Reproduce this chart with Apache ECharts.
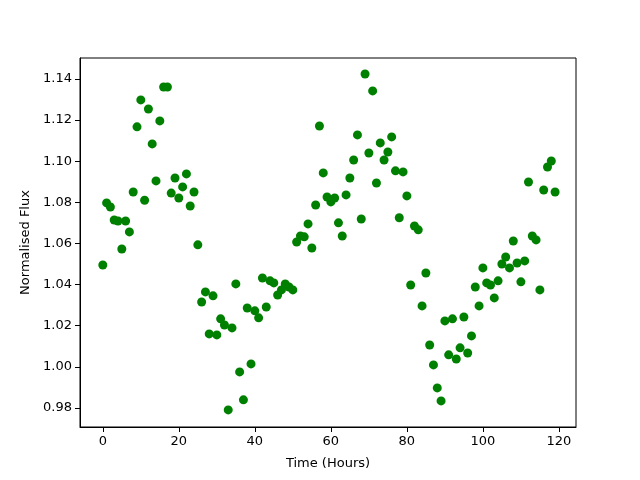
<!DOCTYPE html>
<html>
<head>
<meta charset="utf-8">
<script src="https://cdn.jsdelivr.net/npm/echarts@6/dist/echarts.min.js"></script>
<style>
  html, body { margin: 0; padding: 0; background: #fff; }
  #main { width: 640px; height: 480px; }
</style>
</head>
<body>
<div id="main"></div>
<script>
// 光变曲线：归一化通量 vs 时间
var hours = [];
for (var h = 0; h < 120; h++) hours.push(h);

var flux = [
  1.0495, 1.0797, 1.0777, 1.0714, 1.0709, 1.0573, 1.0709, 1.0656, 1.0850, 1.1167,
  1.1298, 1.0810, 1.1254, 1.1084, 1.0904, 1.1196, 1.1361, 1.1361, 1.0845, 1.0918,
  1.0821, 1.0875, 1.0938, 1.0782, 1.0850, 1.0593, 1.0315, 1.0364, 1.0160, 1.0345,
  1.0155, 1.0233, 1.0203, 0.9790, 1.0189, 1.0403, 0.9975, 0.9839, 1.0286, 1.0014,
  1.0272, 1.0238, 1.0432, 1.0291, 1.0418, 1.0408, 1.0349, 1.0374, 1.0403, 1.0388,
  1.0374, 1.0607, 1.0636, 1.0632, 1.0695, 1.0578, 1.0787, 1.1171, 1.0943, 1.0826,
  1.0802, 1.0821, 1.0700, 1.0636, 1.0836, 1.0918, 1.1006, 1.1128, 1.0719, 1.1424,
  1.1040, 1.1342, 1.0894, 1.1089, 1.1006, 1.1045, 1.1118, 1.0953, 1.0725, 1.0948,
  1.0831, 1.0398, 1.0685, 1.0666, 1.0296, 1.0456, 1.0106, 1.0009, 0.9897, 0.9834,
  1.0223, 1.0058, 1.0233, 1.0038, 1.0092, 1.0242, 1.0067, 1.0150, 1.0388, 1.0296,
  1.0481, 1.0408, 1.0398, 1.0335, 1.0418, 1.0500, 1.0534, 1.0481, 1.0612, 1.0505,
  1.0413, 1.0515, 1.0899, 1.0636, 1.0617, 1.0374, 1.0860, 1.0972, 1.1001, 1.0850
];

var xTicks = [0, 20, 40, 60, 80, 100, 120];
var yTicks = [0.98, 1.00, 1.02, 1.04, 1.06, 1.08, 1.10, 1.12, 1.14];

(function() {
  var chartDom = document.getElementById('main');
  var myChart = echarts.init(chartDom);
  var option;

  var points = hours.map(function(t, i) { return [t, flux[i]]; });
  var font = 'DejaVu Sans';

  option = {
    animation: false,
    grid: {
      left: 80,
      right: 64,
      top: 58,
      bottom: 53,
      show: true,
      borderColor: '#000',
      borderWidth: 1,
      backgroundColor: 'transparent'
    },
    xAxis: {
      type: 'value',
      min: -6,
      max: 124.5,
      name: 'Time (Hours)',
      nameLocation: 'middle',
      nameGap: 30,
      nameTextStyle: { color: '#000', fontSize: 13, fontFamily: font },
      splitLine: { show: false },
      axisLine: { show: true, onZero: false, lineStyle: { color: '#000' } },
      axisTick: { show: true, length: 5, customValues: xTicks, lineStyle: { color: '#000' } },
      axisLabel: {
        color: '#000', fontSize: 13, fontFamily: font, margin: 8,
        customValues: xTicks
      }
    },
    yAxis: {
      type: 'value',
      min: 0.9707,
      max: 1.1502,
      name: 'Normalised Flux',
      nameLocation: 'middle',
      nameGap: 48,
      nameRotate: 90,
      nameTextStyle: { color: '#000', fontSize: 13, fontFamily: font },
      splitLine: { show: false },
      axisLine: { show: true, onZero: false, lineStyle: { color: '#000' } },
      axisTick: { show: true, length: 5, customValues: yTicks, lineStyle: { color: '#000' } },
      axisLabel: {
        color: '#000', fontSize: 13, fontFamily: font, margin: 8,
        customValues: yTicks,
        formatter: function(v) { return v.toFixed(2); }
      }
    },
    series: [
      {
        type: 'scatter',
        symbol: 'circle',
        symbolSize: 9,
        itemStyle: { color: '#008000', opacity: 1 },
        data: points
      }
    ]
  };

  option && myChart.setOption(option);
})();
</script>
</body>
</html>
